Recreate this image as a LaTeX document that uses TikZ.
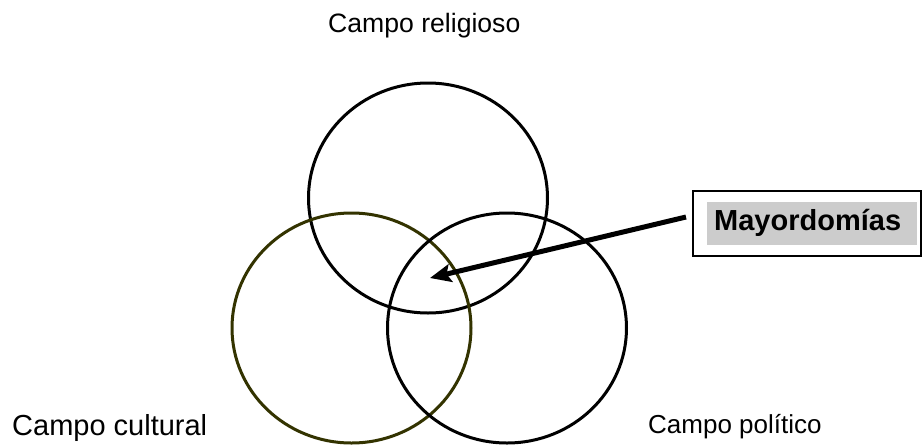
\documentclass[tikz,border=0pt]{standalone}
\usepackage{fontspec}
\setmainfont{Liberation Sans}
\usetikzlibrary{shapes.geometric,arrows.meta}
\definecolor{olivering}{RGB}{51,51,0}
\definecolor{boxgray}{RGB}{204,204,204}
\tikzset{
  ring/.style={draw=black, line width=3pt, ellipse, inner sep=0pt, minimum width=239pt, minimum height=230pt},
  label/.style={inner sep=0pt, anchor=base west},
  framebox/.style={draw=black, line width=2pt, fill=white, inner sep=0pt, minimum width=228pt, minimum height=65pt},
  grayfill/.style={fill=boxgray, inner sep=0pt, minimum width=210pt, minimum height=43pt},
  arr/.style={line width=5pt, -{Stealth[length=21pt,width=18pt,inset=4pt]}}
}
\begin{document}
\begin{tikzpicture}[x=1pt,y=-1pt]
\useasboundingbox (0,0) rectangle (922,445);
\clip (0,0) rectangle (922,445);
\fill[white] (0,0) rectangle (922,445);
\node[ring] (rel) at (428,198) {};
\node[ring, draw=olivering] (cul) at (351.5,328) {};
\node[ring] (pol) at (507,328) {};
\node[label, font=\fontsize{26.6}{30}\selectfont] (trel) at (328,32) {Campo religioso};
\node[label, font=\fontsize{29}{33}\selectfont] (tcul) at (12,435) {Campo cultural};
\node[label, font=\fontsize{26}{30}\selectfont] (tpol) at (648,433) {Campo político};
\node[framebox] (box) at (807,223) {};
\node[grayfill] (gray) at (812,223.5) {};
\node[label, font=\bfseries\fontsize{29}{33}\selectfont] (may) at (714,230) {Mayordomías};
\coordinate (as) at (686,217);
\coordinate (tip) at (430,278);
\draw[arr] (as) -- (tip);
\end{tikzpicture}
\end{document}
